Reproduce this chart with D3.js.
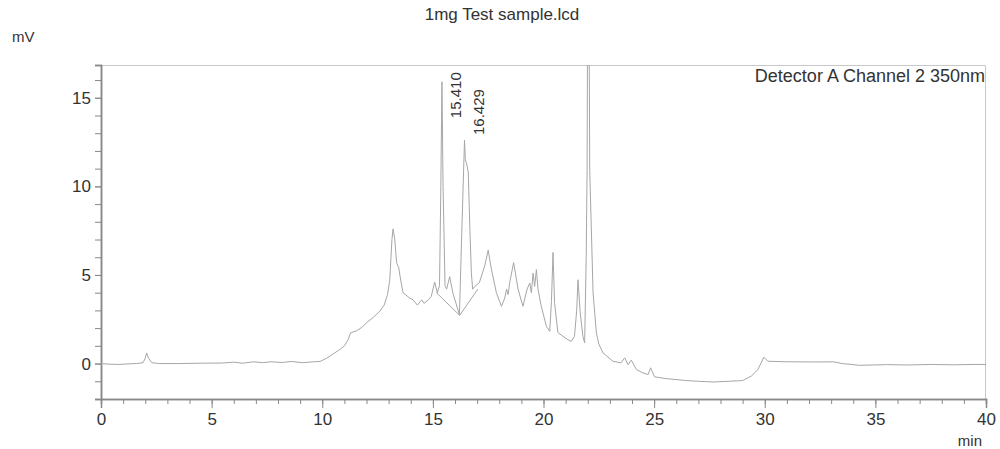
<!DOCTYPE html>
<html>
<head>
<meta charset="utf-8">
<script src="https://cdn.jsdelivr.net/npm/d3@7"></script>
<style>
  body { margin: 0; background: #fff; }
  svg text { font-family: "Liberation Sans", Arial, sans-serif; fill: #333; }
</style>
</head>
<body>
<svg id="chart" width="1000" height="449"></svg>
<script>
// retention time (min) and signal (mV)
const times = [0, 0.3, 0.8, 1.2, 1.6, 1.9, 2.0, 2.06, 2.15, 2.3, 2.6, 3.5, 4.5, 5.5, 6.0, 6.4, 6.9, 7.3, 7.7, 8.2, 8.6, 9.1, 9.6, 9.9,
  10.2, 10.5, 10.8, 11.0, 11.17, 11.28, 11.55, 11.8, 12.0, 12.3, 12.6, 12.8, 12.95, 13.05, 13.15, 13.2, 13.28, 13.36, 13.46, 13.52, 13.65, 13.95,
  14.1, 14.3, 14.5, 14.6, 14.8, 14.93, 15.08, 15.2, 15.3, 15.36, 15.41, 15.46, 15.55, 15.62, 15.76, 15.9, 16.2, 16.32, 16.43,
  16.47, 16.52, 16.6, 16.67, 16.74, 16.8, 16.9, 17.1, 17.34, 17.5, 17.65, 17.87, 18.1, 18.25, 18.33, 18.4, 18.47, 18.65, 18.85,
  19.07, 19.26, 19.38, 19.45, 19.53, 19.6, 19.68, 19.75, 19.9, 20.13, 20.28, 20.36, 20.43, 20.5, 20.65, 20.88, 21.1, 21.26,
  21.4, 21.5, 21.56, 21.66, 21.78, 21.86, 21.93, 21.97, 22.02, 22.09, 22.16, 22.24, 22.39, 22.5, 22.69, 23.14, 23.5, 23.67,
  23.82, 23.97, 24.2, 24.5, 24.73, 24.84, 25.02, 25.55, 26.45, 27.0, 27.66, 28.4, 29.0, 29.39, 29.69, 29.96, 30.14, 31.0,
  32.5, 33.1, 33.5, 34.3, 35.5, 36.5, 37.5, 38.5, 39.5, 40.0];
const signal = [0, -0.03, -0.05, -0.02, 0, 0.05, 0.3, 0.6, 0.3, 0.05, 0, 0, 0.02, 0.03, 0.08, 0.02, 0.1, 0.05, 0.1, 0.06, 0.12, 0.05, 0.1, 0.12,
  0.3, 0.55, 0.8, 1.0, 1.35, 1.73, 1.85, 2.05, 2.3, 2.6, 2.95, 3.3, 3.9, 4.7, 7.0, 7.6, 7.0, 5.7, 5.4, 4.9, 4.0, 3.7,
  3.6, 3.3, 3.6, 3.4, 3.6, 3.8, 4.6, 4.0, 4.4, 10.0, 15.9, 10.0, 4.4, 4.2, 4.9, 4.0, 2.76, 8.0, 12.6,
  11.5, 11.3, 10.8, 7.7, 5.1, 4.2, 4.36, 4.56, 5.5, 6.4, 5.3, 4.0, 3.23, 3.7, 4.2, 3.9, 4.56, 5.7, 4.2,
  3.23, 4.2, 4.55, 4.0, 5.1, 4.36, 5.3, 4.2, 3.23, 2.1, 1.82, 3.5, 6.27, 3.44, 1.75, 1.54, 1.35, 1.26,
  1.54, 3.0, 4.73, 2.86, 1.54, 1.16, 6.0, 10.9, 30, 10.9, 7.7, 4.0, 1.73, 1.1, 0.6, 0.13, 0.04, 0.32,
  -0.06, 0.19, -0.34, -0.53, -0.62, -0.24, -0.75, -0.85, -0.96, -1.0, -1.04, -1.0, -0.96, -0.71, -0.34, 0.36, 0.13, 0.1,
  0.09, 0.1, 0, -0.1, -0.06, -0.08, -0.05, -0.07, -0.05, -0.05];

// integration baseline under the two labelled peaks
const baseTimes = [15.16, 16.21, 17.03];
const baseSignal = [4.0, 2.72, 4.2];

const peakTimes = [15.41, 16.43];
const peakNames = ["15.410", "16.429"];

const xTicks = [0, 5, 10, 15, 20, 25, 30, 35, 40];
const yTicks = [0, 5, 10, 15];

const svg = d3.select("#chart");
const width = +svg.attr("width");
const height = +svg.attr("height");
const margin = { top: 65, right: 14, bottom: 50, left: 101 };

const x = d3.scaleLinear().domain([0, 40]).range([margin.left, width - margin.right]);
const y = d3.scaleLinear().domain([-2, 16.85]).range([height - margin.bottom, margin.top]);

svg.append("defs").append("clipPath").attr("id", "plot")
  .append("rect")
  .attr("x", margin.left).attr("y", margin.top)
  .attr("width", width - margin.left - margin.right)
  .attr("height", height - margin.top - margin.bottom);

// frame: light top / right edges
svg.append("path")
  .attr("d", `M${x(0)},${y(16.85) + 0.5}H${x(40) - 0.5}V${y(-2)}`)
  .attr("fill", "none")
  .attr("stroke", "#c8c8c8");

// x axis
const xAxisG = svg.append("g").attr("transform", `translate(0,${y(-2)})`);
xAxisG.call(d3.axisBottom(x).tickValues(d3.range(0, 41, 1)).tickSize(5).tickFormat(""));
xAxisG.append("g").call(d3.axisBottom(x).tickValues(xTicks).tickSize(9).tickPadding(5));
xAxisG.selectAll("path").attr("stroke", "#888").attr("stroke-width", 1.5);
xAxisG.selectAll("line").attr("stroke", "#888");
xAxisG.selectAll("text").attr("font-size", 17).attr("fill", "#333");

// y axis
const yAxisG = svg.append("g").attr("transform", `translate(${x(0)},0)`);
yAxisG.call(d3.axisLeft(y).tickValues(d3.range(-1, 17, 1)).tickSize(6).tickFormat(""));
yAxisG.append("g").call(d3.axisLeft(y).tickValues(yTicks).tickSize(6).tickPadding(4));
yAxisG.selectAll("path").attr("stroke", "#888").attr("stroke-width", 1.5);
yAxisG.selectAll("line").attr("stroke", "#888");
yAxisG.selectAll("text").attr("font-size", 17).attr("fill", "#333");

const line = d3.line().x(d => x(d[0])).y(d => y(d[1]));

svg.append("path")
  .datum(d3.zip(times, signal))
  .attr("clip-path", "url(#plot)")
  .attr("d", line)
  .attr("fill", "none")
  .attr("stroke", "#a6a6a6")
  .attr("stroke-width", 1);

svg.append("path")
  .datum(d3.zip(baseTimes, baseSignal))
  .attr("d", line)
  .attr("fill", "none")
  .attr("stroke", "#a6a6a6")
  .attr("stroke-width", 1);

// peak labels, rotated
const labelAt = [13.85, 12.9];
svg.selectAll("text.peak")
  .data(peakTimes)
  .enter()
  .append("text")
  .attr("class", "peak")
  .attr("transform", (d, i) => `translate(${x(d) + 19},${y(labelAt[i])}) rotate(-90)`)
  .attr("font-size", 15)
  .text((d, i) => peakNames[i]);

// titles
svg.append("text").attr("x", 502).attr("y", 20).attr("text-anchor", "middle")
  .attr("font-size", 17).text("1mg Test sample.lcd");
svg.append("text").attr("x", 12).attr("y", 42).attr("font-size", 15).text("mV");
svg.append("text").attr("x", 982).attr("y", 446).attr("text-anchor", "end")
  .attr("font-size", 15).text("min");
svg.append("text").attr("x", 985).attr("y", 82).attr("text-anchor", "end")
  .attr("font-size", 18).text("Detector A Channel 2 350nm");
</script>
</body>
</html>
